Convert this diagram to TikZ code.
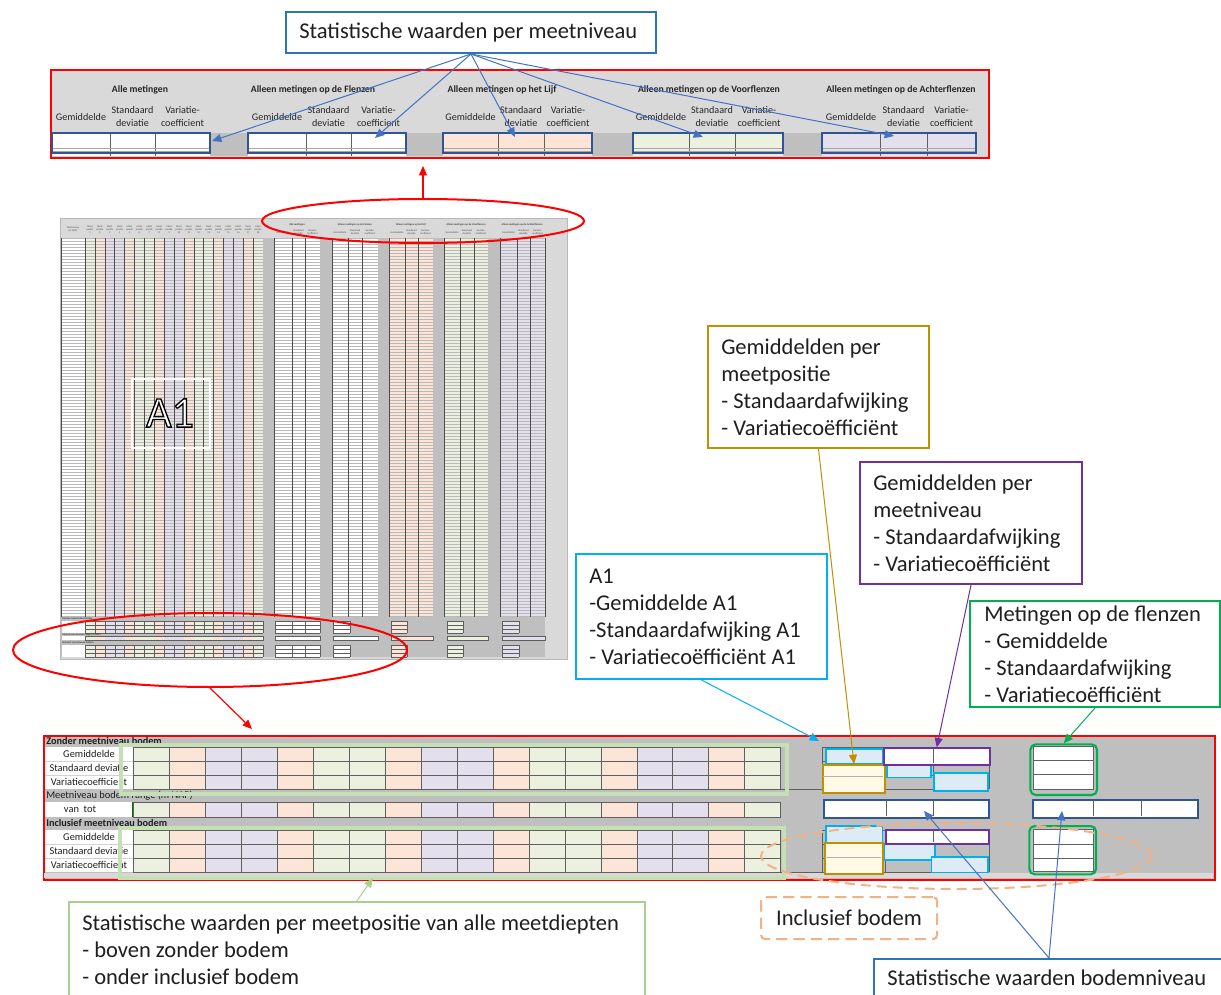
\documentclass[tikz,border=0pt]{standalone}
\usepackage{fontspec}
\setmainfont{Carlito}
\newfontfamily\Aonefont{Carlito}[FakeBold=3]
\usetikzlibrary{shapes.geometric,arrows.meta}
\definecolor{cgreen}{HTML}{EBF1DE}
\definecolor{cpeach}{HTML}{FCE4D6}
\definecolor{clav}{HTML}{E4DFEC}
\definecolor{gLight}{HTML}{D9D9D9}
\definecolor{gMid}{HTML}{BFBFBF}
\definecolor{gridc}{HTML}{5F5F5F}
\definecolor{redc}{HTML}{FF0000}
\definecolor{arrowblue}{HTML}{4472C4}
\definecolor{calloutblue}{HTML}{2E75B6}
\definecolor{darkblue}{HTML}{2F5597}
\definecolor{goldc}{HTML}{BF9000}
\definecolor{purplec}{HTML}{7030A0}
\definecolor{cyanc}{HTML}{00B0F0}
\definecolor{cyanfill}{HTML}{DDEBF7}
\definecolor{greenc}{HTML}{00B050}
\definecolor{lgreen}{HTML}{C5E0B4}
\definecolor{lgreenline}{HTML}{A9D18E}
\definecolor{orangec}{HTML}{F4B183}
\definecolor{creamc}{HTML}{FFF9E6}
\newcommand\poslist{0/cgreen,1/cpeach,2/clav,3/clav,4/cpeach,5/cgreen,6/cgreen,7/cpeach,8/clav,9/clav,10/cpeach,11/cgreen,12/cgreen,13/cpeach,14/clav,15/clav,16/cpeach,17/cgreen}
\tikzset{
  cbox/.style={rectangle, inner sep=0pt, anchor=north west},
  callout/.style={cbox, fill=white, line width=1.5pt},
  ctext/.style={anchor=west, inner sep=0pt, align=left, text=black!88, font=\fontsize{16.9pt}{20.25pt}\selectfont},
  ttl/.style={inner sep=0pt, text=black!85, font=\bfseries\fontsize{7.3pt}{8.8pt}\selectfont},
  hdr/.style={inner sep=0pt, align=center, text=black!85, font=\fontsize{7.6pt}{9.75pt}\selectfont},
  lbl/.style={inner sep=0pt, text=black!88, font=\fontsize{7.8pt}{9pt}\selectfont},
  lblb/.style={inner sep=0pt, text=black!88, font=\bfseries\fontsize{7.7pt}{9pt}\selectfont},
  tinytxt/.style={inner sep=0pt, align=center, text=black!70, font=\fontsize{1.9pt}{2.3pt}\selectfont},
  tinyb/.style={inner sep=0pt, align=center, text=black!75, font=\bfseries\fontsize{2pt}{2.4pt}\selectfont},
  arrowtip/.style={-{Triangle[length=7pt,width=6pt]}},
  conn/.style={arrowtip, line width=0.75pt},
  redarr/.style={draw=redc, line width=0.9pt, -{Triangle[length=7pt,width=6pt]}},
  cellgrid/.style={draw=gridc, line width=0.55pt},
}
\begin{document}
\begin{tikzpicture}[x=0.75pt,y=-0.75pt]
\useasboundingbox (0,0) rectangle (1221,995);
\fill[white] (0,0) rectangle (1221,995);

% ================= TOP PANEL =================
\node[cbox, draw=redc, line width=1.5pt, fill=gLight, minimum width=703.5pt, minimum height=66pt] (toppanel) at (50,69) {};
\foreach \a/\b in {210/248,406/443,592/633,783/822} \fill[gMid] (\a,133) rectangle (\b,156);
\foreach \g/\xa/\xb/\xc/\xd/\col/\tx/\ttxt in {
 1/52/110/155/210/white/140/Alle metingen,
 2/248/306/351/406/white/313/Alleen metingen op de Flenzen,
 3/443/498/544/592/cpeach/502/Alleen metingen op het Lijf,
 4/633/689/735/783/cgreen/709/Alleen metingen op de Voorflenzen,
 5/822/880/927/976/clav/901/Alleen metingen op de Achterflenzen}{
  \fill[\col] (\xa,133) rectangle (\xd,156);
  \draw[gridc, line width=0.5pt] (\xb,133)--(\xb,156) (\xc,133)--(\xc,156);
  \draw[gray!70, line width=0.4pt] (\xa,148.5)--(\xd,148.5) (\xa,151.5)--(\xd,151.5);
  \draw[darkblue, line width=1.3pt] (\xa,133) rectangle (\xd,153);
  \node[ttl] (tt-\g) at (\tx,90) {\ttxt};
  \node[hdr] (th-\g-a) at ({(\xa+\xb)/2},117) {Gemiddelde};
  \node[hdr] (th-\g-b) at ({(\xb+\xc)/2},116.5) {Standaard\\deviatie};
  \node[hdr] (th-\g-c) at ({(\xc+\xd)/2},116.5) {Variatie-\\coefficient};
}

% ================= THUMBNAIL =================
\node[cbox, draw=gray!55, line width=0.5pt, fill=gLight, minimum width=380.25pt, minimum height=330.75pt] (thumb) at (60,218) {};
\fill[white] (61,238) rectangle (85,617);
\foreach \i/\c in \poslist \fill[\c] ({85+\i*9.889},238) rectangle ({85+(\i+1)*9.889},617);
\fill[white] (274,238) rectangle (320,617);
\fill[white] (332,238) rectangle (378,617);
\fill[cpeach] (389,238) rectangle (433,617);
\fill[cgreen] (444,238) rectangle (488,617);
\fill[clav] (500,238) rectangle (545,617);
\foreach \y in {238,241,...,616} \draw[gray!55, line width=0.25pt] (61,\y)--(545,\y);
\foreach \i in {0,...,18} \draw[gray!60!black, line width=0.3pt] ({85+\i*9.889},238)--({85+\i*9.889},617);
\foreach \x in {61,274,292,305,320,332,348,362,378,389,405,418,433,444,460,474,488,500,517,530,545}
  \draw[gray!60!black, line width=0.3pt] (\x,238)--(\x,617);
\fill[gMid] (61,617) rectangle (545,657);
\foreach \a/\b in {263/274,320/332,378/389,433/444,488/500} \fill[gMid] (\a,238) rectangle (\b,657);
% thumbnail header texts
\node[tinytxt] (th-mn) at (73,229) {Meetniveau\\(m NAP)};
\foreach \i/\c [evaluate=\i as \nn using int(\i+1)] in \poslist
  \node[tinytxt] (thp-\nn) at ({85+(\i+0.5)*9.889},230) {Meet\\positie\\\nn};
\foreach \g/\x/\ttxt in {1/297/Alle metingen,2/355/Alleen metingen op de Flenzen,3/411/Alleen metingen op het Lijf,4/466/Alleen metingen op de Voorflenzen,5/522/Alleen metingen op de Achterflenzen}
  \node[tinyb] (tht-\g) at (\x,225) {\ttxt};
\foreach \g/\xa/\xb/\xc/\xd in {1/274/292/305/320,2/332/348/362/378,3/389/405/418/433,4/444/460/474/488,5/500/517/530/545}{
  \node[tinytxt] (ths-\g-a) at ({(\xa+\xb)/2},232.5) {Gemiddelde};
  \node[tinytxt] (ths-\g-b) at ({(\xb+\xc)/2},232.5) {Standaard\\deviatie};
  \node[tinytxt] (ths-\g-c) at ({(\xc+\xd)/2},232.5) {Variatie-\\coefficient};
}
% thumbnail summary rows
\foreach \ya in {621,645}{
  \fill[white] (62,\ya) rectangle (85,\ya+12);
  \foreach \i/\c in \poslist \fill[\c] ({85+\i*9.889},\ya) rectangle ({85+(\i+1)*9.889},\ya+12);
  \fill[white] (275,\ya) rectangle (320,\ya+12);
  \fill[white] (333,\ya) rectangle (350,\ya+12);
  \fill[cpeach] (391,\ya) rectangle (407,\ya+12);
  \fill[cgreen] (447,\ya) rectangle (463,\ya+12);
  \fill[clav] (502,\ya) rectangle (519,\ya+12);
  \foreach \k in {0,4,8,12}
    \draw[gridc, line width=0.25pt] (85,\ya+\k)--(263,\ya+\k) (275,\ya+\k)--(320,\ya+\k) (333,\ya+\k)--(350,\ya+\k) (391,\ya+\k)--(407,\ya+\k) (447,\ya+\k)--(463,\ya+\k) (502,\ya+\k)--(519,\ya+\k);
  \foreach \i in {0,...,18} \draw[gridc, line width=0.25pt] ({85+\i*9.889},\ya)--({85+\i*9.889},\ya+12);
  \foreach \x in {275,292,305,320,333,350,391,407,447,463,502,519} \draw[gridc, line width=0.25pt] (\x,\ya)--(\x,\ya+12);
}
\fill[white] (62,636) rectangle (85,640);
\foreach \i/\c in \poslist \fill[\c] ({85+\i*9.889},636) rectangle ({85+(\i+1)*9.889},640);
\draw[gridc, line width=0.25pt] (85,636) rectangle (263,640);
\foreach \a/\b/\c in {275/320/white,333/378/white,391/433/cpeach,447/488/cgreen,502/545/clav}{
  \fill[\c] (\a,636) rectangle (\b,640);
  \draw[gridc, line width=0.25pt] (\a,636) rectangle (\b,640);
}
\node[tinyb, anchor=west] (ts-z) at (62,619) {Zonder meetniveau bodem};
\node[tinyb, anchor=west] (ts-r) at (62,634.5) {Meetniveau bodem range (m NAP)};
\node[tinyb, anchor=west] (ts-i) at (62,642.7) {Inclusief meetniveau bodem};
% A1 label
\node[cbox, draw=white, line width=1.2pt, minimum width=58.5pt, minimum height=51.75pt] (a1frame) at (131,378) {};
\node[inner sep=0pt] (a1lbl) at (170,413) {\Aonefont\fontsize{33pt}{33pt}\selectfont\color{white}\special{pdf:code 0 G}A1};

% ================= BOTTOM PANEL =================
\node[cbox, draw=redc, line width=1.5pt, fill=gMid, minimum width=878.25pt, minimum height=108pt] (botpanel) at (43,735) {};
\fill[gLight] (44.2,873) rectangle (1212.8,877.8);
\fill[white] (45,747) rectangle (133,789);
\fill[white] (45,802) rectangle (133,817);
\fill[white] (45,830) rectangle (133,872);
\foreach \y in {761,775,844,858} \draw[gray!35, line width=0.4pt] (45,\y)--(133,\y);
\draw[green!45!black, line width=0.9pt] (133,802)--(133,817);
\foreach \ya/\yb in {747/789,802/817,830/872}{
  \foreach \i/\c in \poslist \fill[\c] ({133.3+\i*35.97},\ya) rectangle ({133.3+(\i+1)*35.97},\yb);
  \foreach \i in {0,...,18} \draw[cellgrid] ({133.3+\i*35.97},\ya)--({133.3+\i*35.97},\yb);
}
\foreach \y in {747,761,775,789,802,817,830,844,858,872} \draw[cellgrid] (133.3,\y)--(780.7,\y);
\draw[cellgrid] (780.7,789)--(989,789);
\draw[cellgrid] (780.7,872)--(989,872);
% labels
\node[lblb, anchor=base west] (hz) at (46,744) {Zonder meetniveau bodem};
\node[lbl] (l1) at (89,754) {Gemiddelde};
\node[lbl] (l2) at (89,768) {Standaard deviatie};
\node[lbl] (l3) at (89,782) {Variatiecoefficient};
\node[lbl, anchor=base west] (hr) at (46,798.5) {Meetniveau bodem range (m NAP)};
\node[lbl] (vt) at (80,809.5) {van\ \ tot};
\node[lblb, anchor=base west] (hi) at (46,826) {Inclusief meetniveau bodem};
\node[lbl] (l4) at (89,837) {Gemiddelde};
\node[lbl] (l5) at (89,851) {Standaard deviatie};
\node[lbl] (l6) at (89,865) {Variatiecoefficient};
% green overlay rectangles
\node[cbox, draw=lgreen, line width=3pt, minimum width=499.5pt, minimum height=36.5pt] (grU) at (119,743) {};
\node[cbox, draw=lgreen, line width=3pt, minimum width=498pt, minimum height=37.5pt] (grL) at (117.5,825.5) {};
% right grids
\foreach \ya in {747,830}{
  \fill[gMid] (822,\ya) rectangle (989,\ya+42);
  \foreach \x in {822,885,933,989} \draw[cellgrid] (\x,\ya)--(\x,\ya+42);
  \foreach \k in {0,14,28,42} \draw[cellgrid] (822,\ya+\k)--(989,\ya+\k);
}
% upper overlays
\node[cbox, draw=cyanc, fill=cyanfill, line width=1.2pt, minimum width=42.5pt, minimum height=11.25pt] (cyU1) at (825,748.3) {};
\node[cbox, draw=cyanc, fill=cyanfill, line width=1.2pt, minimum width=33pt, minimum height=10pt] (cyU2) at (886,763.3) {};
\node[cbox, draw=cyanc, fill=cyanfill, line width=1.2pt, minimum width=40.5pt, minimum height=13.3pt] (cyU3) at (933.3,772.3) {};
\node[cbox, draw=goldc, fill=creamc, line width=1.5pt, minimum width=47pt, minimum height=20.8pt] (goldU) at (821.7,764) {};
\draw[gray!60, line width=0.5pt] (822.8,776)--(883.2,776);
\node[cbox, draw=purplec, fill=white, line width=1.4pt, minimum width=79.7pt, minimum height=12.5pt] (purpU) at (882.7,747.3) {};
\draw[gridc, line width=0.6pt] (933.3,748.3)--(933.3,763);
% range row boxes
\node[cbox, draw=darkblue, fill=white, line width=1.5pt, minimum width=124.2pt, minimum height=13.5pt] (blR1) at (822.7,799.3) {};
\draw[gridc, line width=0.6pt] (886,800.3)--(886,816.3) (933.3,800.3)--(933.3,816.3);
\node[cbox, draw=darkblue, fill=white, line width=1.5pt, minimum width=123.75pt, minimum height=13.5pt] (blR2) at (1031.7,799.3) {};
\draw[gridc, line width=0.6pt] (1093.3,800.3)--(1093.3,816.3) (1141,800.3)--(1141,816.3);
% green rounded boxes
\fill[white] (1033.3,746.7) rectangle (1093.3,789);
\draw[gridc, line width=0.6pt] (1033.3,746.7) rectangle (1093.3,789) (1033.3,760.7)--(1093.3,760.7) (1033.3,774.3)--(1093.3,774.3);
\node[cbox, draw=greenc, line width=1.6pt, rounded corners=4pt, minimum width=50pt, minimum height=38pt] (grnU) at (1029.3,743.3) {};
\fill[white] (1033.3,829.3) rectangle (1093.3,871.7);
\draw[gridc, line width=0.6pt] (1033.3,829.3) rectangle (1093.3,871.7) (1033.3,844)--(1093.3,844) (1033.3,858.3)--(1093.3,858.3);
\node[cbox, draw=greenc, line width=1.6pt, rounded corners=4pt, minimum width=50pt, minimum height=36.2pt] (grnL) at (1028.3,825) {};
% lower overlays
\node[cbox, draw=cyanc, fill=cyanfill, line width=1.2pt, minimum width=42.5pt, minimum height=13.3pt] (cyL1) at (825,825) {};
\node[cbox, draw=cyanc, fill=cyanfill, line width=1.2pt, minimum width=38pt, minimum height=12pt] (cyL2) at (883.3,843.3) {};
\node[cbox, draw=cyanc, fill=cyanfill, line width=1.2pt, minimum width=42.5pt, minimum height=11.8pt] (cyL3) at (930.7,856) {};
\node[cbox, draw=goldc, fill=creamc, line width=1.5pt, minimum width=43.5pt, minimum height=23.25pt] (goldL) at (824.3,842.3) {};
\draw[gray!60, line width=0.5pt] (825.3,857.7)--(881.3,857.7);
\node[cbox, draw=purplec, fill=white, line width=1.4pt, minimum width=77.5pt, minimum height=10.5pt] (purpL) at (885,829.3) {};
\draw[gridc, line width=0.6pt] (933.3,830.3)--(933.3,842.3);

% ================= ELLIPSES =================
\node[ellipse, draw=redc, line width=1.5pt, minimum width=241.5pt, minimum height=33pt, inner sep=0pt] (ellTop) at (423,221) {};
\node[ellipse, draw=redc, line width=1.5pt, minimum width=295.5pt, minimum height=55.5pt, inner sep=0pt] (ellBot) at (210,650) {};
\node[ellipse, draw=orangec, line width=1.5pt, dash pattern=on 7.5pt off 4.5pt, minimum width=292.5pt, minimum height=49.5pt, inner sep=0pt] (ellOr) at (956,856) {};

% ================= CALLOUTS =================
\node[callout, draw=calloutblue, minimum width=277.5pt, minimum height=30.75pt] (topc) at (285,11) {};
\node[ctext] (topc-t) at ([xshift=10.5pt]topc.west) {Statistische waarden per meetniveau};

\node[callout, draw=goldc, minimum width=165.75pt, minimum height=91.5pt] (gold) at (707,325) {};
\node[ctext] (gold-t) at ([xshift=10.5pt]gold.west) {Gemiddelden per\\meetpositie\\- Standaardafwijking\\- Variatiecoëfficiënt};

\node[callout, draw=purplec, minimum width=166.5pt, minimum height=91.5pt] (purple) at (859,461) {};
\node[ctext] (purple-t) at ([xshift=10.5pt]purple.west) {Gemiddelden per\\meetniveau\\- Standaardafwijking\\- Variatiecoëfficiënt};

\node[callout, draw=cyanc, minimum width=188.25pt, minimum height=93.75pt] (a1c) at (575,553) {};
\node[ctext] (a1c-t) at ([xshift=10.5pt]a1c.west) {A1\\-Gemiddelde A1\\-Standaardafwijking A1\\- Variatiecoëfficiënt A1};

\node[callout, draw=greenc, minimum width=187.5pt, minimum height=79.5pt] (greenc) at (969,600) {};
\node[ctext] (greenc-t) at ([xshift=11.25pt]greenc.west) {Metingen op de flenzen\\- Gemiddelde\\- Standaardafwijking\\- Variatiecoëfficiënt};

\node[callout, draw=lgreenline, line width=1.2pt, minimum width=432pt, minimum height=72pt] (bl) at (68,901) {};
\node[ctext] (bl-t) at ([xshift=10.5pt]bl.west) {Statistische waarden per meetpositie van alle meetdiepten\\- boven zonder bodem\\- onder inclusief bodem};

\node[callout, draw=orangec, line width=1.6pt, dash pattern=on 8.5pt off 4.5pt, rounded corners=3pt, minimum width=132pt, minimum height=31.5pt, align=center, text=black!88, font=\fontsize{16.9pt}{20.25pt}\selectfont] (incl) at (760,896) {Inclusief bodem};

\node[callout, draw=calloutblue, minimum width=262.5pt, minimum height=28.5pt] (bstat) at (873,958) {};
\node[ctext] (bstat-t) at ([xshift=10.5pt]bstat.west) {Statistische waarden bodemniveau};

% ================= CONNECTORS =================
\coordinate (tipG1) at (212,141);
\coordinate (tipG2) at (375,138);
\coordinate (tipG3) at (515,137);
\coordinate (tipG4) at (703,137);
\coordinate (tipG5) at (894,136);
\foreach \k in {1,...,5} \draw[conn, draw=arrowblue] (topc.south) -- (tipG\k);

\coordinate (tipT) at (423,166);
\draw[redarr] (ellTop.north) -- (tipT);
\coordinate (tipB) at (252,729);
\draw[redarr] (ellBot.south) -- (tipB);

\draw[conn, draw=goldc] (gold.south) -- (goldU.north);
\draw[conn, draw=purplec] (purple.south) -- (purpU.north);
\coordinate (tipA1) at (819,741);
\draw[conn, draw=cyanc] (a1c.south) -- (tipA1);
\draw[conn, draw=greenc] (greenc.south) -- (grnU.north);
\coordinate (tipLG) at (373,878);
\draw[conn, draw=lgreenline] (bl.north) -- (tipLG);
\coordinate (tipR1) at (924,811);
\coordinate (tipR2) at (1062,811);
\draw[conn, draw=arrowblue] (bstat.north) -- (tipR1);
\draw[conn, draw=arrowblue] (bstat.north) -- (tipR2);
\end{tikzpicture}
\end{document}
